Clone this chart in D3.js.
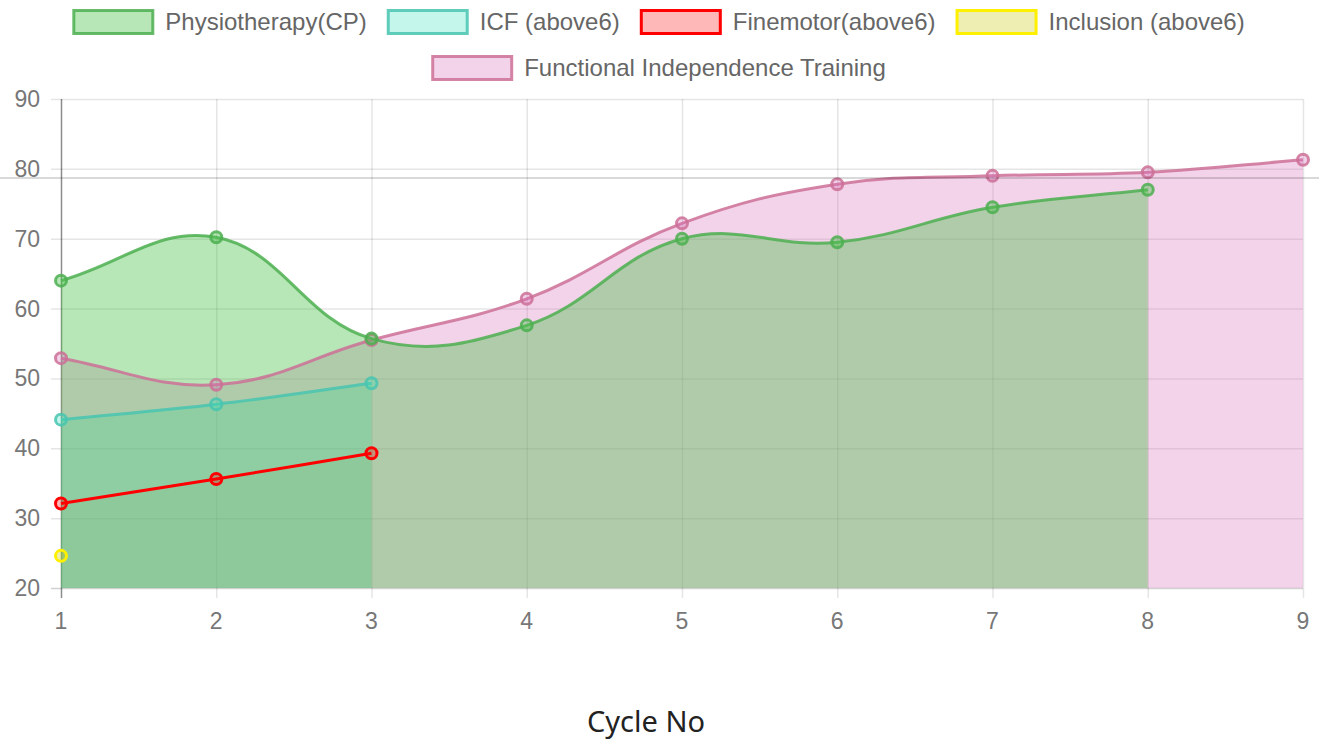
<!DOCTYPE html>
<html>
<head>
<meta charset="utf-8">
<script src="https://cdn.jsdelivr.net/npm/d3@7"></script>
<style>
body { margin: 0; background: #fff; }
svg { display: block; }
</style>
</head>
<body>
<svg id="chart"></svg>
<script>
var width = 1319,
    height = 745;

// data
var cycles = [1, 2, 3, 4, 5, 6, 7, 8, 9];
var yTicks = [20, 30, 40, 50, 60, 70, 80, 90];
var seriesNames = ["Physiotherapy(CP)", "ICF (above6)", "Finemotor(above6)", "Inclusion (above6)", "Functional Independence Training"];
var physio = [64, 70.2, 55.7, 57.6, 70, 69.5, 74.5, 77];
var icf = [44.1, 46.3, 49.3];
var finemotor = [32.1, 35.6, 39.3];
var inclusion = [24.6];
var fit = [52.9, 49.1, 55.5, 61.4, 72.2, 77.8, 79, 79.5, 81.3];
var refLine = 78.7;

var seriesValues = [physio, icf, finemotor, inclusion, fit];
var borderColors = ["rgba(76,175,80,0.85)", "rgba(72,196,176,0.85)", "rgb(255,0,0)", "rgb(255,240,0)", "rgba(204,112,150,0.85)"];
var fillColors = ["rgba(75,192,75,0.4)", "rgba(60,225,190,0.3)", "rgba(255,0,0,0.28)", "rgba(200,200,0,0.3)", "rgba(215,110,185,0.3)"];
var areaOpacity = [1, 1, 0.2, 1, 1];

var svg = d3.select("#chart")
  .attr("width", width)
  .attr("height", height);

var x = d3.scaleLinear().domain([1, 9]).range([61, 1303]);
var y = d3.scaleLinear().domain([20, 90]).range([588, 99]);

// Chart.js style bezier (tension 0.4)
function ChartSpline(context) { this._context = context; }
ChartSpline.prototype = {
  areaStart: function() { this._line = 0; },
  areaEnd: function() { this._line = NaN; },
  lineStart: function() { this._x = []; this._y = []; },
  point: function(px, py) { this._x.push(+px); this._y.push(+py); },
  lineEnd: function() {
    var xs = this._x, ys = this._y, n = xs.length, c = this._context, t = 0.4;
    if (n) {
      this._line ? c.lineTo(xs[0], ys[0]) : c.moveTo(xs[0], ys[0]);
      var cp = xs.map(function(xv, i) {
        var pi = Math.max(i - 1, 0), ni = Math.min(i + 1, n - 1);
        var d01 = Math.hypot(xv - xs[pi], ys[i] - ys[pi]);
        var d12 = Math.hypot(xs[ni] - xv, ys[ni] - ys[i]);
        var s01 = d01 / (d01 + d12), s12 = d12 / (d01 + d12);
        if (isNaN(s01)) s01 = 0;
        if (isNaN(s12)) s12 = 0;
        var fa = t * s01, fb = t * s12;
        return {
          px: xv - fa * (xs[ni] - xs[pi]), py: ys[i] - fa * (ys[ni] - ys[pi]),
          nx: xv + fb * (xs[ni] - xs[pi]), ny: ys[i] + fb * (ys[ni] - ys[pi])
        };
      });
      for (var i = 1; i < n; i++) {
        c.bezierCurveTo(cp[i - 1].nx, cp[i - 1].ny, cp[i].px, cp[i].py, xs[i], ys[i]);
      }
    }
    if (this._line || (this._line !== 0 && n === 1)) c.closePath();
    this._line = 1 - this._line;
  }
};
function chartSpline(context) { return new ChartSpline(context); }

// grid
var grid = svg.append("g");
grid.selectAll(".hgrid")
  .data(yTicks)
  .enter().append("line")
  .attr("x1", x(1) - 10).attr("x2", x(9))
  .attr("y1", function(d) { return y(d) + 0.5; })
  .attr("y2", function(d) { return y(d) + 0.5; })
  .attr("stroke", function(d, i) { return i === 0 ? "rgba(0,0,0,0.18)" : "rgba(0,0,0,0.1)"; })
  .attr("stroke-width", 1.5);

grid.selectAll(".vgrid")
  .data(cycles)
  .enter().append("line")
  .attr("x1", function(d) { return x(d) + 0.5; })
  .attr("x2", function(d) { return x(d) + 0.5; })
  .attr("y1", y(90)).attr("y2", y(20) + 10)
  .attr("stroke", function(d, i) { return i === 0 ? "rgba(0,0,0,0.45)" : "rgba(0,0,0,0.1)"; })
  .attr("stroke-width", 1.5);

// axis labels
svg.append("g").selectAll("text")
  .data(yTicks)
  .enter().append("text")
  .attr("x", 40)
  .attr("y", function(d) { return y(d); })
  .attr("dy", "0.35em")
  .attr("text-anchor", "end")
  .style("font-family", "'Liberation Sans', Arial, sans-serif")
  .style("font-size", "23px")
  .style("fill", "#777")
  .text(function(d) { return d; });

svg.append("g").selectAll("text")
  .data(cycles)
  .enter().append("text")
  .attr("x", function(d) { return x(d); })
  .attr("y", 629)
  .attr("text-anchor", "middle")
  .style("font-family", "'Liberation Sans', Arial, sans-serif")
  .style("font-size", "23px")
  .style("fill", "#777")
  .text(function(d) { return d; });

// series, last drawn first
var order = d3.range(seriesNames.length).reverse();

var area = d3.area()
  .x(function(d, i) { return x(cycles[i]); })
  .y0(y(20))
  .y1(function(d) { return y(d); })
  .curve(chartSpline);

var line = d3.line()
  .x(function(d, i) { return x(cycles[i]); })
  .y(function(d) { return y(d); })
  .curve(chartSpline);

var plot = svg.append("g");
order.forEach(function(k) {
  var vals = seriesValues[k];
  if (vals.length > 1) {
    plot.append("path")
      .attr("d", area(vals))
      .attr("fill", fillColors[k])
      .attr("fill-opacity", areaOpacity[k]);
  }
});
order.forEach(function(k) {
  var vals = seriesValues[k];
  var g = plot.append("g");
  if (vals.length > 1) {
    g.append("path")
      .attr("d", line(vals))
      .attr("fill", "none")
      .attr("stroke", borderColors[k])
      .attr("stroke-width", 3);
  }
  g.selectAll("circle")
    .data(vals)
    .enter().append("circle")
    .attr("cx", function(d, i) { return x(cycles[i]); })
    .attr("cy", function(d) { return y(d); })
    .attr("r", 5.5)
    .attr("fill", fillColors[k])
    .attr("stroke", borderColors[k])
    .attr("stroke-width", 3);
});

// horizontal line across the page
svg.append("line")
  .attr("x1", 0).attr("x2", width)
  .attr("y1", y(refLine)).attr("y2", y(refLine))
  .attr("stroke", "rgba(0,0,0,0.15)")
  .attr("stroke-width", 2);

// legend
var legendRows = [[0, 1, 2, 3], [4]];
var boxW = 82, boxH = 26, gap = 11, itemGap = 20;
var legend = svg.append("g");
legendRows.forEach(function(row, r) {
  var rowG = legend.append("g");
  var cursor = 0;
  row.forEach(function(k) {
    var item = rowG.append("g").attr("transform", "translate(" + cursor + ",0)");
    item.append("rect")
      .attr("x", 1.5).attr("y", 1.5)
      .attr("width", boxW - 3).attr("height", boxH - 3)
      .attr("fill", fillColors[k])
      .attr("stroke", borderColors[k])
      .attr("stroke-width", 3);
    var t = item.append("text")
      .attr("x", boxW + gap)
      .attr("y", boxH / 2)
      .attr("dy", "0.35em")
      .style("font-family", "'Liberation Sans', Arial, sans-serif")
      .style("font-size", "24px")
      .style("fill", "#666")
      .text(seriesNames[k]);
    cursor += boxW + gap + t.node().getComputedTextLength() + itemGap;
  });
  var rowW = cursor - itemGap;
  rowG.attr("transform", "translate(" + (658.5 - rowW / 2) + "," + (9 + r * 46) + ")");
});

// x axis title
svg.append("text")
  .attr("x", 646)
  .attr("y", 732)
  .attr("text-anchor", "middle")
  .style("font-family", "'Noto Sans', 'Open Sans', sans-serif")
  .style("font-size", "29px")
  .style("fill", "#222")
  .text("Cycle No");
</script>
</body>
</html>
